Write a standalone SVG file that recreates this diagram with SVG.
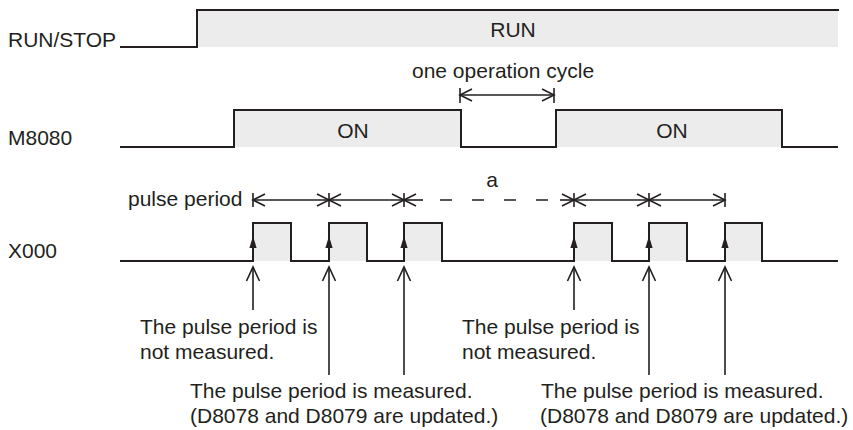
<svg xmlns="http://www.w3.org/2000/svg" width="853" height="430" viewBox="0 0 853 430">
<style>
  .t { font-family: "Liberation Sans", Arial, sans-serif; font-size: 21px; fill: #231f20; }
  .wave { fill: none; stroke: #231f20; stroke-width: 2; stroke-linejoin: miter; }
  .hi { fill: #ececec; stroke: none; }
  .dim { fill: none; stroke: #231f20; stroke-width: 1.6; }
  .bar { stroke: #231f20; stroke-width: 1.6; }
  .up { fill: none; stroke: #231f20; stroke-width: 1.6; }
  .edge { fill: #231f20; stroke: none; }
</style>
<defs>
  <marker id="open" viewBox="0 0 13 13" refX="12" refY="6.5" markerWidth="13" markerHeight="13" markerUnits="userSpaceOnUse" orient="auto-start-reverse" overflow="visible">
    <path d="M0,0.5 L12,6.5 L0,12.5" fill="none" stroke="#231f20" stroke-width="1.6"/>
  </marker>
  <marker id="upOpen" viewBox="0 0 15 14" refX="14" refY="7" markerWidth="15" markerHeight="14" markerUnits="userSpaceOnUse" orient="auto-start-reverse" overflow="visible">
    <path d="M0,0.5 L14,7 L0,13.5" fill="none" stroke="#231f20" stroke-width="1.6"/>
  </marker>
  <path id="edgeHead" d="M0,0 L3.6,12 L-3.6,12 Z"/>
</defs>

<g id="runstop">
  <rect class="hi" x="197" y="10" width="641" height="37"/>
  <path class="wave" d="M120,47 H197 V10 H839"/>
  <text class="t" x="8" y="47">RUN/STOP</text>
  <text class="t" x="513" y="37" text-anchor="middle">RUN</text>
</g>

<g id="m8080">
  <rect class="hi" x="234" y="110" width="227" height="37"/>
  <rect class="hi" x="556" y="110" width="226" height="37"/>
  <path class="wave" d="M120,147 H234 V110 H461 V147 H556 V110 H782 V147 H838"/>
  <text class="t" x="8" y="145">M8080</text>
  <text class="t" x="353" y="138" text-anchor="middle">ON</text>
  <text class="t" x="672" y="138" text-anchor="middle">ON</text>
</g>

<g id="x000">
  <rect class="hi" x="253" y="223" width="38" height="38"/>
  <rect class="hi" x="329" y="223" width="38" height="38"/>
  <rect class="hi" x="404" y="223" width="38" height="38"/>
  <rect class="hi" x="574" y="223" width="38" height="38"/>
  <rect class="hi" x="649" y="223" width="38" height="38"/>
  <rect class="hi" x="725" y="223" width="37" height="38"/>
  <path class="wave" d="M120,261 H253 V223 H291 V261 H329 V223 H367 V261 H404 V223 H442 V261 H574 V223 H612 V261 H649 V223 H687 V261 H725 V223 H762 V261 H838"/>
  <text class="t" x="8" y="258">X000</text>
  <use href="#edgeHead" class="edge" x="253" y="236"/>
  <use href="#edgeHead" class="edge" x="329" y="236"/>
  <use href="#edgeHead" class="edge" x="404" y="236"/>
  <use href="#edgeHead" class="edge" x="574" y="236"/>
  <use href="#edgeHead" class="edge" x="649" y="236"/>
  <use href="#edgeHead" class="edge" x="725" y="236"/>
</g>

<g id="labels">
  <text class="t" x="412" y="78">one operation cycle</text>
  <text class="t" x="128" y="206">pulse period</text>
  <text class="t" x="492" y="187" text-anchor="middle">a</text>
  <text class="t" x="140" y="334">The pulse period is</text>
  <text class="t" x="140" y="359">not measured.</text>
  <text class="t" x="462" y="334">The pulse period is</text>
  <text class="t" x="462" y="359">not measured.</text>
  <text class="t" x="190" y="398">The pulse period is measured.</text>
  <text class="t" x="190" y="423">(D8078 and D8079 are updated.)</text>
  <text class="t" x="541" y="398">The pulse period is measured.</text>
  <text class="t" x="540" y="423">(D8078 and D8079 are updated.)</text>
</g>

<g id="connectors">
  <!-- one operation cycle -->
  <line class="bar" x1="460" y1="88" x2="460" y2="103"/>
  <line class="bar" x1="554" y1="88" x2="554" y2="103"/>
  <line class="dim" x1="460" y1="95" x2="554" y2="95" marker-start="url(#open)" marker-end="url(#open)"/>
  <!-- pulse period -->
  <line class="bar" x1="253" y1="193" x2="253" y2="207"/>
  <line class="bar" x1="329" y1="193" x2="329" y2="207"/>
  <line class="bar" x1="404" y1="193" x2="404" y2="207"/>
  <line class="bar" x1="574" y1="193" x2="574" y2="207"/>
  <line class="bar" x1="649" y1="193" x2="649" y2="207"/>
  <line class="bar" x1="725" y1="193" x2="725" y2="207"/>
  <line class="dim" x1="253" y1="200" x2="329" y2="200" marker-start="url(#open)" marker-end="url(#open)"/>
  <line class="dim" x1="329" y1="200" x2="404" y2="200" marker-start="url(#open)" marker-end="url(#open)"/>
  <line class="dim" x1="404" y1="200" x2="423" y2="200" marker-start="url(#open)"/>
  <line class="dim" x1="440" y1="200" x2="548" y2="200" stroke-dasharray="12 20"/>
  <line class="dim" x1="560" y1="200" x2="574" y2="200" marker-end="url(#open)"/>
  <line class="dim" x1="574" y1="200" x2="649" y2="200" marker-start="url(#open)" marker-end="url(#open)"/>
  <line class="dim" x1="649" y1="200" x2="725" y2="200" marker-start="url(#open)" marker-end="url(#open)"/>
  <!-- pointer arrows -->
  <line class="up" x1="253" y1="267" x2="253" y2="310" marker-start="url(#upOpen)"/>
  <line class="up" x1="329" y1="267" x2="329" y2="375" marker-start="url(#upOpen)"/>
  <line class="up" x1="404" y1="267" x2="404" y2="375" marker-start="url(#upOpen)"/>
  <line class="up" x1="574" y1="267" x2="574" y2="310" marker-start="url(#upOpen)"/>
  <line class="up" x1="649" y1="267" x2="649" y2="375" marker-start="url(#upOpen)"/>
  <line class="up" x1="725" y1="267" x2="725" y2="375" marker-start="url(#upOpen)"/>
</g>
</svg>
